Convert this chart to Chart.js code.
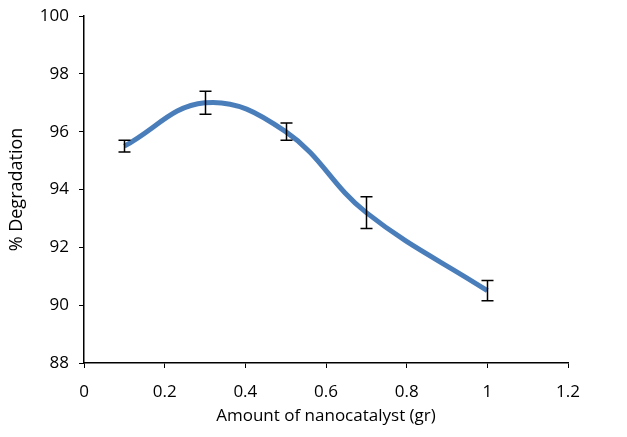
<!DOCTYPE html>
<html>
<head>
<meta charset="utf-8">
<script src="https://cdn.jsdelivr.net/npm/chart.js@4"></script>
<style>
  html, body { margin:0; padding:0; background:#fff; }
  #wrap { width:627px; height:437px; }
</style>
</head>
<body>
<div id="wrap"><canvas id="degChart" width="627" height="437"></canvas></div>
<script>
const amounts = [0.1, 0.3, 0.5, 0.7, 1.0];
const degradation = [95.5, 97.0, 96.0, 93.2, 90.5];
const errors = [0.2, 0.4, 0.3, 0.55, 0.35];
const xTicks = [0, 0.2, 0.4, 0.6, 0.8, 1, 1.2];
const yTicks = [88, 90, 92, 94, 96, 98, 100];

const FONT = "'Open Sans', 'Liberation Sans', sans-serif";

// error bars drawn from the scales
const errorBars = {
  id: "errorBars",
  afterDatasetsDraw(chart){
    const { ctx, scales:{ x, y } } = chart;
    ctx.save();
    ctx.strokeStyle = "#000";
    ctx.lineWidth = 1.5;
    amounts.forEach((a, i) => {
      const px = Math.round(x.getPixelForValue(a)) + 0.5;
      const top = y.getPixelForValue(degradation[i] + errors[i]);
      const bot = y.getPixelForValue(degradation[i] - errors[i]);
      ctx.beginPath();
      ctx.moveTo(px, top); ctx.lineTo(px, bot);
      ctx.moveTo(px - 6, top); ctx.lineTo(px + 6, top);
      ctx.moveTo(px - 6, bot); ctx.lineTo(px + 6, bot);
      ctx.stroke();
    });
    ctx.restore();
  }
};

new Chart(document.getElementById("degChart"), {
  type: "line",
  data: {
    datasets: [{
      data: amounts.map((a, i) => ({ x: a, y: degradation[i] })),
      borderColor: "#4a7ebb",
      borderWidth: 5,
      pointRadius: 0,
      tension: 0.4,
      fill: false
    }]
  },
  plugins: [errorBars],
  options: {
    responsive: false,
    animation: false,
    layout: { padding: { left: 0, right: 59, top: 16, bottom: 0 } },
    plugins: { legend: { display:false }, tooltip: { enabled:false } },
    scales: {
      x: {
        type: "linear",
        min: 0, max: 1.2,
        afterBuildTicks: s => { s.ticks = xTicks.map(v => ({ value: v })); },
        afterFit: s => { s.height = 74; },
        ticks: { color:"#000", font:{ family:FONT, size:17 }, padding: 14, maxRotation: 0,
                 callback: v => String(v) },
        grid: { drawOnChartArea:false, drawTicks:true, tickLength:5, color:"#000" },
        border: { color:"#000", width:1.5 },
        title: { display:true, text:"Amount of nanocatalyst (gr)", color:"#000",
                 font:{ family:FONT, size:17 }, padding:{ top:0, bottom:11 } }
      },
      y: {
        min: 88, max: 100,
        afterBuildTicks: s => { s.ticks = yTicks.map(v => ({ value: v })); },
        afterFit: s => { s.width = 84; s.paddingTop = 0; s.paddingBottom = 0; },
        ticks: { color:"#000", font:{ family:FONT, size:17 }, padding: 10,
                 callback: v => String(v) },
        grid: { drawOnChartArea:false, drawTicks:true, tickLength:5, color:"#000" },
        border: { color:"#000", width:1.5 },
        title: { display:true, text:"% Degradation", color:"#000",
                 font:{ family:FONT, size:18 }, padding:{ top:6, bottom:0 } }
      }
    }
  }
});
</script>
</body>
</html>
